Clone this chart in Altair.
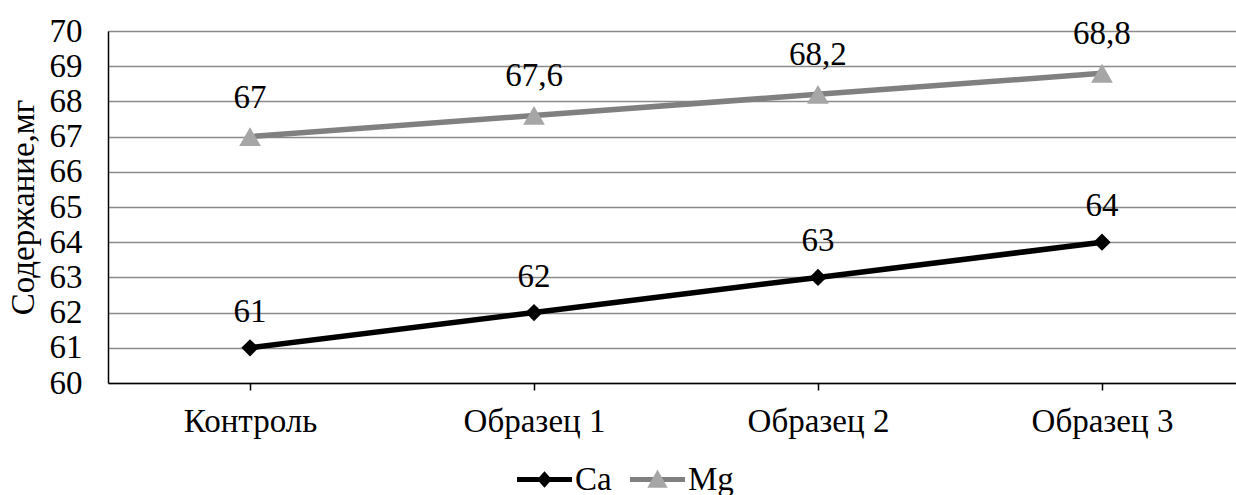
import altair as alt
import pandas as pd

categories = ["Контроль", "Образец 1", "Образец 2", "Образец 3"]
ca_values = [61, 62, 63, 64]
mg_values = [67, 67.6, 68.2, 68.8]
series_names = ["Ca", "Mg"]
y_ticks = list(range(60, 71))

def fmt(v):
    return (f"{v:g}").replace(".", ",")

rows = []
for name, vals in zip(series_names, [ca_values, mg_values]):
    for c, v in zip(categories, vals):
        rows.append({"category": c, "series": name, "value": v, "label": fmt(v)})
df = pd.DataFrame(rows)

FONT = "Liberation Serif"
FS = 33

x_enc = alt.X("category:N", sort=categories, title=None,
              scale=alt.Scale(type="point", padding=0.486, align=0.5145),
              axis=alt.Axis(labelAngle=0, labelFontSize=FS, labelColor="black",
                            labelFont=FONT, labelPadding=15,
                            domainColor="black", domainWidth=1.5,
                            tickColor="black", tickWidth=1.5, tickSize=7,
                            grid=False))
y_enc = alt.Y("value:Q", title="Содержание,мг",
              scale=alt.Scale(domain=[60, 70], nice=False, zero=False),
              axis=alt.Axis(values=y_ticks, format="d", labelFontSize=FS,
                            labelColor="black", labelFont=FONT, labelPadding=26,
                            ticks=False, domainColor="black", domainWidth=1.5,
                            grid=True, gridColor="#8a8a8a", gridWidth=1.3,
                            titleFont=FONT, titleFontSize=FS,
                            titleFontWeight="normal", titleColor="black",
                            titlePadding=9))

base = alt.Chart(df)

lines = base.mark_line(strokeWidth=5.5).encode(
    x=x_enc, y=y_enc,
    color=alt.Color("series:N", scale=alt.Scale(domain=series_names, range=["#000000", "#808080"]), legend=None),
)

points = base.mark_point(filled=True, opacity=1).encode(
    x=x_enc, y=y_enc,
    color=alt.Color("series:N", scale=alt.Scale(domain=series_names, range=["#000000", "#a6a6a6"]), legend=None),
    shape=alt.Shape("series:N", scale=alt.Scale(domain=series_names, range=["diamond", "triangle-up"]), legend=None),
    size=alt.Size("series:N", scale=alt.Scale(domain=series_names, range=[300, 470]), legend=None),
)

# legend entries: (series, symbol path, colour, x offset, label opacity)
legend_specs = [
    ("Ca", "M-1,-0.09H1V0.09H-1Z M0,-0.3L0.27,0L0,0.3L-0.27,0Z", "#000000", 409, 1),
    ("Mg", "M-1,-0.09H1V0.09H-1Z", "#808080", 522, 1),
    ("Mg", "M0,-0.36L0.37,0.3L-0.37,0.3Z", "#a6a6a6", 522, 0),
]

legend_layers = []
for name, path, col, lx, lop in legend_specs:
    legend_layers.append(
        base.transform_filter(alt.datum.value < 0).mark_point(
            filled=True, opacity=1, color=col, strokeWidth=0
        ).encode(
            x=x_enc, y=y_enc,
            shape=alt.Shape("series:N", scale=alt.Scale(domain=[name], range=[path]),
                            legend=alt.Legend(title=None, orient="none", legendX=lx, legendY=421,
                                              direction="horizontal", symbolSize=3025,
                                              symbolFillColor=col, symbolStrokeColor=col,
                                              symbolOpacity=1, symbolStrokeWidth=0,
                                              labelFont=FONT, labelFontSize=FS, labelColor="black",
                                              labelOpacity=lop, labelOffset=3)),
        )
    )

text_ca = base.transform_filter(alt.datum.series == "Ca").mark_text(
    font=FONT, fontSize=FS, color="black", baseline="alphabetic", dy=-26
).encode(x=x_enc, y=y_enc, text="label:N")

text_mg = base.transform_filter(alt.datum.series == "Mg").mark_text(
    font=FONT, fontSize=FS, color="black", baseline="alphabetic", dy=-29
).encode(x=x_enc, y=y_enc, text="label:N")

chart = alt.layer(lines, *legend_layers, points, text_ca, text_mg).resolve_scale(
    color="independent", shape="independent", size="independent"
).properties(
    width=1128, height=352,
    autosize=alt.AutoSizeParams(type="none"),
    padding={"left": 108, "top": 31, "right": 0, "bottom": 112},
    background="white",
).configure_view(stroke=None).configure(font=FONT)

chart.save("out.html", embed_options={"renderer": "svg", "actions": False})
